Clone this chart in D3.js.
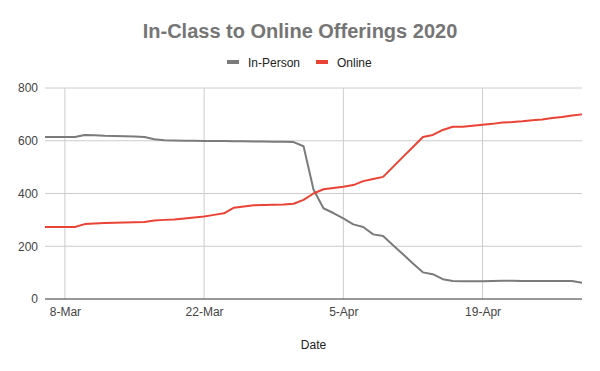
<!DOCTYPE html>
<html>
<head>
<meta charset="utf-8">
<script src="https://cdn.jsdelivr.net/npm/d3@7"></script>
<style>
  body { margin: 0; background: #fff; }
  text { font-family: "Liberation Sans", Arial, sans-serif; }
</style>
</head>
<body>
<div id="chart"></div>
<script>
// daily counts, 6-Mar through 29-Apr 2020
const startDate = new Date(2020, 2, 6);
const inPerson = [614, 614, 614, 614, 622, 621, 619, 618, 617, 616, 614, 606, 602, 601, 600, 600, 599, 599, 599, 598, 598, 597, 597, 596, 596, 595,
  579, 415, 344, 326, 306, 283, 273, 245, 239, 204, 170, 135, 101, 94, 75, 68, 67, 67, 67, 68, 69, 69, 68, 68, 68, 68, 68, 68, 62];
const online = [273, 273, 273, 273, 284, 286, 288, 289, 290, 291, 292, 298, 300, 301, 305, 309, 313, 319, 325, 346, 351, 355, 356, 357, 358, 361,
  376, 400, 416, 421, 426, 432, 447, 455, 463, 501, 539, 576, 614, 622, 641, 653, 653, 657, 661, 664, 669, 671, 674, 678, 681, 686, 690, 696, 700];
const seriesNames = ['In-Person', 'Online'];
const seriesColors = ['#7b7b7b', '#ea4335'];
const yTicks = [0, 200, 400, 600, 800];
const xTickDates = [new Date(2020, 2, 8), new Date(2020, 2, 22), new Date(2020, 3, 5), new Date(2020, 3, 19)];

const width = 600, height = 371;
const margin = { top: 88, right: 18, bottom: 72, left: 45 };

const dates = inPerson.map((_, i) => d3.timeDay.offset(startDate, i));
const series = [inPerson, online];

const svg = d3.select('#chart').append('svg')
        .attr('width', width)
        .attr('height', height);

const x = d3.scaleTime()
        .domain([dates[0], dates[dates.length - 1]])
        .range([margin.left, width - margin.right]);
const y = d3.scaleLinear()
        .domain([0, 800])
        .range([height - margin.bottom, margin.top]);

// horizontal grid
svg.append('g')
        .selectAll('line')
        .data(yTicks.filter(d => d > 0))
        .join('line')
        .attr('x1', margin.left)
        .attr('x2', width - margin.right)
        .attr('y1', d => y(d))
        .attr('y2', d => y(d))
        .attr('stroke', '#cccccc');

// vertical grid
svg.append('g')
        .selectAll('line')
        .data(xTickDates)
        .join('line')
        .attr('x1', d => x(d))
        .attr('x2', d => x(d))
        .attr('y1', margin.top)
        .attr('y2', height - margin.bottom)
        .attr('stroke', '#cccccc');

// y labels
const yAxis = svg.append('g')
        .attr('transform', `translate(${margin.left - 7},0)`)
        .call(d3.axisLeft(y).tickValues(yTicks).tickSize(0).tickPadding(0));
yAxis.select('.domain').remove();
yAxis.selectAll('text')
        .attr('font-size', 12)
        .attr('fill', '#444')
        .style('font-family', '"Liberation Sans", Arial, sans-serif');

// x labels
const xAxis = svg.append('g')
        .attr('transform', `translate(0,${height - margin.bottom})`)
        .call(d3.axisBottom(x).tickValues(xTickDates).tickSize(0).tickPadding(8)
                .tickFormat(d3.timeFormat('%-d-%b')));
xAxis.select('.domain').remove();
xAxis.selectAll('text')
        .attr('font-size', 12)
        .attr('fill', '#444')
        .style('font-family', '"Liberation Sans", Arial, sans-serif');

// lines
const line = d3.line()
        .x((d, i) => x(dates[i]))
        .y(d => y(d));

svg.append('g')
        .selectAll('path')
        .data(series)
        .join('path')
        .attr('d', d => line(d))
        .attr('fill', 'none')
        .attr('stroke', (d, i) => seriesColors[i])
        .attr('stroke-width', 2)
        .attr('stroke-linejoin', 'round');

// baseline
svg.append('line')
        .attr('x1', margin.left)
        .attr('x2', width - margin.right)
        .attr('y1', y(0))
        .attr('y2', y(0))
        .attr('stroke', '#333')
        .attr('stroke-width', 1);

// title
svg.append('text')
        .attr('x', 300)
        .attr('y', 38)
        .attr('text-anchor', 'middle')
        .attr('font-size', 20)
        .attr('font-weight', 'bold')
        .attr('fill', '#757575')
        .text('In-Class to Online Offerings 2020');

// legend
const legendX = [227, 316];
const legend = svg.append('g')
        .selectAll('g')
        .data(seriesNames)
        .join('g')
        .attr('transform', (d, i) => `translate(${legendX[i]},62)`);
legend.append('rect')
        .attr('x', 0)
        .attr('y', -2)
        .attr('width', 12)
        .attr('height', 4)
        .attr('fill', (d, i) => seriesColors[i]);
legend.append('text')
        .attr('x', 21)
        .attr('y', 4.5)
        .attr('font-size', 12)
        .attr('fill', '#222')
        .text(d => d);

// axis title, centred on the plot area
svg.append('text')
        .attr('x', (margin.left + width - margin.right) / 2)
        .attr('y', 349)
        .attr('text-anchor', 'middle')
        .attr('font-size', 12)
        .attr('fill', '#222')
        .text('Date');
</script>
</body>
</html>
